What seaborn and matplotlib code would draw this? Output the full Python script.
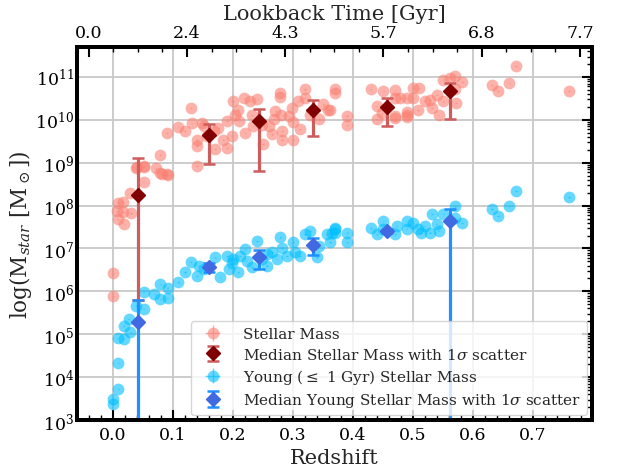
import numpy as np
import matplotlib
matplotlib.use("Agg")
import matplotlib.pyplot as plt
import seaborn as sns
from matplotlib.ticker import AutoMinorLocator, LogLocator, NullFormatter, FixedLocator

# ---------------- data ----------------
# all stellar mass: redshift and log10(M)
red_z = [0.0, 0.0, 0.008, 0.016, 0.007, 0.017, 0.030, 0.008, 0.019, 0.029, 0.051, 0.040,
         0.051, 0.071, 0.079, 0.090, 0.039, 0.051, 0.079, 0.081, 0.091, 0.090, 0.109, 0.120,
         0.130, 0.131, 0.140, 0.140, 0.140, 0.148, 0.151, 0.157, 0.171, 0.168, 0.176, 0.184,
         0.190, 0.190, 0.198, 0.200, 0.204, 0.211, 0.209, 0.219, 0.221, 0.229, 0.232, 0.234,
         0.241, 0.248, 0.250, 0.261, 0.265, 0.271, 0.279, 0.279, 0.281, 0.282, 0.282, 0.293,
         0.298, 0.301, 0.301, 0.309, 0.312, 0.320, 0.320, 0.329, 0.343, 0.351, 0.359, 0.371,
         0.371, 0.268, 0.362, 0.390, 0.391, 0.430, 0.451, 0.471, 0.501, 0.511, 0.440, 0.440,
         0.448, 0.471, 0.479, 0.490, 0.501, 0.471, 0.490, 0.491, 0.509, 0.471, 0.490, 0.520,
         0.529, 0.532, 0.540, 0.543, 0.551, 0.562, 0.571, 0.582, 0.551, 0.572, 0.571, 0.632,
         0.642, 0.661, 0.672, 0.761]
red_logm = [6.43, 5.89, 8.07, 8.09, 7.88, 7.84, 7.82, 7.68, 7.57, 8.30, 8.55, 8.91,
            8.92, 8.88, 8.75, 8.73, 8.88, 8.91, 9.19, 8.73, 8.71, 9.70, 9.83, 9.74,
            10.28, 9.93, 9.54, 9.40, 8.92, 9.93, 9.85, 9.62, 9.31, 9.74, 9.81, 9.54,
            9.35, 9.97, 9.62, 10.43, 10.12, 9.97, 10.24, 10.51, 9.70, 10.43, 10.12, 9.85,
            10.49, 9.89, 9.43, 9.85, 9.66, 10.20, 10.63, 10.53, 10.12, 9.74, 9.54, 10.09,
            10.28, 9.54, 9.95, 10.43, 9.78, 10.71, 10.51, 10.12, 10.01, 10.36, 10.24, 10.71,
            10.63, 10.01, 10.24, 10.10, 9.87, 10.71, 10.67, 10.69, 10.74, 10.74, 10.32, 10.01,
            10.15, 10.51, 10.51, 10.51, 10.51, 10.09, 10.12, 10.18, 10.22, 10.05, 10.07, 10.43,
            10.47, 10.28, 10.59, 10.12, 10.94, 10.98, 11.02, 10.88, 10.43, 10.40, 10.71, 10.82,
            10.67, 10.86, 11.25, 10.67]

# young stellar mass (<= 1 Gyr)
blue_z = [0.0, 0.0, 0.009, 0.009, 0.008, 0.018, 0.018, 0.029, 0.026, 0.039, 0.051, 0.051,
          0.069, 0.079, 0.079, 0.091, 0.091, 0.109, 0.120, 0.130, 0.140, 0.143, 0.151, 0.171,
          0.179, 0.190, 0.193, 0.201, 0.209, 0.212, 0.221, 0.232, 0.240, 0.248, 0.257, 0.265,
          0.273, 0.279, 0.282, 0.290, 0.301, 0.304, 0.312, 0.320, 0.329, 0.340, 0.343, 0.357,
          0.365, 0.371, 0.223, 0.198, 0.257, 0.371, 0.371, 0.362, 0.391, 0.391, 0.430, 0.440,
          0.451, 0.451, 0.471, 0.473, 0.490, 0.501, 0.490, 0.509, 0.513, 0.520, 0.529, 0.532,
          0.540, 0.543, 0.551, 0.571, 0.571, 0.582, 0.632, 0.642, 0.661, 0.672, 0.761]
blue_logm = [3.48, 3.38, 3.73, 4.33, 4.91, 4.89, 5.20, 5.05, 5.36, 5.67, 5.59, 5.99,
             5.94, 6.17, 5.82, 6.09, 5.84, 6.21, 6.44, 6.69, 6.36, 6.60, 6.52, 6.79,
             6.33, 6.83, 6.52, 6.75, 6.44, 6.83, 6.98, 6.56, 7.18, 6.75, 6.60, 6.91,
             6.75, 7.26, 7.02, 6.83, 7.14, 6.91, 6.83, 7.33, 7.41, 6.79, 7.06, 7.33,
             7.37, 7.47, 6.71, 6.67, 6.87, 7.45, 7.37, 7.14, 7.37, 7.14, 7.47, 7.33,
             7.64, 7.45, 7.33, 7.53, 7.64, 7.60, 7.45, 7.45, 7.37, 7.53, 7.37, 7.80,
             7.57, 7.41, 7.80, 7.98, 7.72, 7.60, 7.91, 7.76, 7.99, 8.34, 8.19]

# medians with 1-sigma scatter (log10 values: median, lower bound, upper bound)
med_z = [0.041, 0.161, 0.244, 0.333, 0.457, 0.562]
red_med = [8.25, 9.64, 9.97, 10.22, 10.29, 10.67]
red_lo = [5.80, 8.98, 8.81, 9.62, 9.85, 10.02]
red_hi = [9.12, 9.91, 10.26, 10.46, 10.50, 10.85]
blue_med = [5.28, 6.57, 6.81, 7.09, 7.41, 7.63]
blue_lo = [2.00, 6.44, 6.52, 6.85, 7.36, 2.00]
blue_hi = [5.81, 6.67, 6.97, 7.24, 7.46, 7.93]

top_tick_labels = ["0.0", "2.4", "4.3", "5.7", "6.8", "7.7"]
x_ticks = [0.0, 0.1, 0.2, 0.3, 0.4, 0.5, 0.6, 0.7]

# ---------------- style ----------------
sns.set_theme(style="whitegrid")
plt.rcParams["font.family"] = ["DejaVu Serif"]
plt.rcParams["mathtext.fontset"] = "dejavuserif"

fig = plt.figure(figsize=(6.22, 4.77), dpi=100)
ax = fig.add_axes([77 / 622, 56 / 477, 515 / 622, 373 / 477])
ax.set_facecolor("white")

def lin(v):
    return 10 ** np.asarray(v, dtype=float)

rz, rm = np.asarray(red_z), lin(red_logm)
bz, bm = np.asarray(blue_z), lin(blue_logm)

ax.errorbar(rz, rm, xerr=0.0012 * np.ones_like(rz), yerr=0.01 * rm, fmt="o",
            color="salmon", ecolor="salmon", ms=8.5, alpha=0.6, elinewidth=1,
            mec="none", label="Stellar Mass", zorder=2)
mz = np.asarray(med_z)
rmed = lin(red_med)
ax.errorbar(mz, rmed, yerr=[rmed - lin(red_lo), lin(red_hi) - rmed], fmt="D",
            color="maroon", ecolor="indianred", ms=7.5, elinewidth=2.3, capsize=4,
            capthick=1.8, label=r"Median Stellar Mass with 1$\sigma$ scatter", zorder=4)
ax.errorbar(bz, bm, xerr=0.0012 * np.ones_like(bz), yerr=0.01 * bm, fmt="o",
            color="deepskyblue", ecolor="deepskyblue", ms=8.5, alpha=0.6, elinewidth=1,
            mec="none", label=r"Young ($\leq$ 1 Gyr) Stellar Mass", zorder=3)
bmed = lin(blue_med)
ax.errorbar(mz, bmed, yerr=[bmed - lin(blue_lo), lin(blue_hi) - bmed], fmt="D",
            color="royalblue", ecolor="dodgerblue", ms=7.5, elinewidth=2.3, capsize=4,
            capthick=1.8, label=r"Median Young Stellar Mass with 1$\sigma$ scatter", zorder=5)

ax.set_yscale("log")
ax.set_ylim(1e3, 5e11)
ax.set_xlim(-0.06, 0.799)
ax.set_xticks(x_ticks)
ax.set_xticklabels([f"{t:.1f}" for t in x_ticks])
ax.xaxis.set_minor_locator(AutoMinorLocator(5))
ax.yaxis.set_major_locator(LogLocator(base=10, numticks=20))
ax.yaxis.set_minor_locator(LogLocator(base=10, subs=np.arange(2, 10), numticks=20))
ax.yaxis.set_minor_formatter(NullFormatter())

ax.grid(True, which="major", color="#c8c8c8", linewidth=1.3)
ax.grid(False, which="minor")
ax.tick_params(axis="both", which="major", direction="in", length=7, width=1.5,
               labelsize=12.5, right=True, top=False, colors="black", pad=4)
ax.tick_params(axis="y", which="major", pad=2)
ax.tick_params(axis="both", which="minor", direction="in", length=3.5, width=1,
               right=True, top=False, colors="black")
for s in ax.spines.values():
    s.set_color("black")
    s.set_linewidth(2.8)

ax.set_xlabel("Redshift", fontsize=15, labelpad=4)
ax.set_ylabel(r"log(M$_{star}$ [M$_\odot$])", fontsize=15.5, labelpad=1)

ax2 = ax.twiny()
ax2.set_xlim(ax.get_xlim())
ax2.xaxis.set_major_locator(FixedLocator(np.linspace(-0.0405, 0.779, 6)))
ax2.set_xticklabels(top_tick_labels)
ax2.xaxis.set_minor_locator(AutoMinorLocator(4))
ax2.tick_params(axis="x", which="major", direction="in", length=7, width=1.5,
                labelsize=12.5, colors="black", pad=4)
ax2.tick_params(axis="x", which="minor", direction="in", length=3.5, width=1, colors="black")
ax2.grid(False)
for s in ax2.spines.values():
    s.set_color("black")
    s.set_linewidth(2.8)
ax2.set_xlabel("Lookback Time [Gyr]", fontsize=15, labelpad=4)

leg = ax.legend(loc="lower right", fontsize=11, frameon=True, framealpha=0.8,
                borderaxespad=0.3, handletextpad=1.0, labelspacing=0.35)
leg.get_frame().set_edgecolor("#cccccc")
leg.set_zorder(10)

fig.savefig("out.png", dpi=100)
